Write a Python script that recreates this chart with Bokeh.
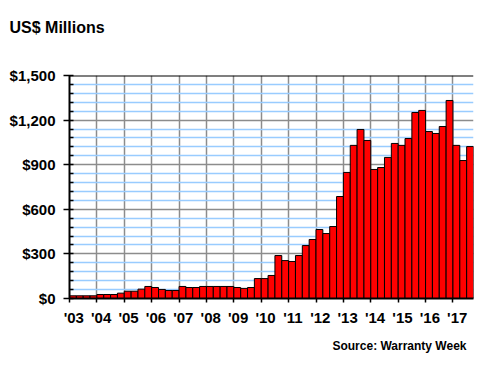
from bokeh.plotting import figure
from bokeh.models import Range1d, FixedTicker, Span, ColumnDataSource, Title
from bokeh.embed import file_html
from bokeh.resources import INLINE

# Quarterly values, US$ millions, 2003 Q1 .. 2017 Q3
values = [
    18, 18, 18, 18,          # 2003
    27, 27, 27, 36,          # 2004
    49, 49, 63, 81,          # 2005
    74, 61, 54, 54,          # 2006
    81, 74, 74, 81,          # 2007
    81, 81, 81, 81,          # 2008
    74, 68, 74, 134,         # 2009
    134, 155, 289, 255,      # 2010
    249, 289, 356, 397,      # 2011
    464, 437, 484, 686,      # 2012
    848, 1030, 1137, 1063,   # 2013
    868, 881, 949, 1043,     # 2014
    1030, 1076, 1251, 1265,  # 2015
    1123, 1110, 1157, 1332,  # 2016
    1030, 928, 1022,         # 2017
]
year_labels = ["'03", "'04", "'05", "'06", "'07", "'08", "'09", "'10",
               "'11", "'12", "'13", "'14", "'15", "'16", "'17"]
y_ticks = [0, 300, 600, 900, 1200, 1500]
y_tick_labels = ["$0", "$300", "$600", "$900", "$1,200", "$1,500"]
y_minor = [v for v in range(60, 1500, 60) if v % 300 != 0]

n = len(values)
src = ColumnDataSource(dict(x=[i + 0.5 for i in range(n)], top=values))

p = figure(width=474, height=372, output_backend="svg", toolbar_location=None,
           x_range=Range1d(0, n), y_range=Range1d(0, 1500),
           min_border_left=69, min_border_right=1, min_border_top=75,
           min_border_bottom=74)
p.outline_line_color = None
p.background_fill_color = "white"
p.border_fill_color = "white"

# grids
year_starts = [4 * k for k in range(len(year_labels))]
p.xgrid.ticker = FixedTicker(ticks=year_starts[1:])
p.xgrid.grid_line_color = "#8c8c8c"
p.xgrid.grid_line_width = 1.5
p.ygrid.ticker = FixedTicker(ticks=y_ticks, minor_ticks=y_minor)
p.ygrid.grid_line_color = "#8c8c8c"
p.ygrid.grid_line_width = 1.5
p.ygrid.minor_grid_line_color = "#99ccff"
p.ygrid.minor_grid_line_width = 1.5

p.vbar(x="x", top="top", width=1.0, bottom=0, source=src,
       fill_color="#ff0000", line_color="black", line_width=1)

p.add_layout(Span(location=1500, dimension="width", line_color="black", line_width=2))

# x axis
lab_pos = [s + 0.625 for s in year_starts]
xa = p.xaxis[0]
xa.ticker = FixedTicker(ticks=lab_pos, minor_ticks=year_starts)
xa.major_label_overrides = {pos: lab for pos, lab in zip(lab_pos, year_labels)}
xa.major_tick_line_color = None
xa.minor_tick_line_color = "black"
xa.minor_tick_line_width = 1.5
xa.minor_tick_in = 0
xa.minor_tick_out = 4
xa.axis_line_color = "black"
xa.axis_line_width = 2
xa.major_label_standoff = 4
xa.major_label_text_font = "Liberation Sans"
xa.major_label_text_font_style = "bold"
xa.major_label_text_font_size = "15px"
xa.major_label_text_color = "black"

# y axis
ya = p.yaxis[0]
ya.ticker = FixedTicker(ticks=y_ticks, minor_ticks=y_minor)
ya.major_label_overrides = {t: lab for t, lab in zip(y_ticks, y_tick_labels)}
ya.major_tick_line_color = "black"
ya.major_tick_line_width = 1.5
ya.major_tick_in = 4
ya.major_tick_out = 6
ya.minor_tick_line_color = "black"
ya.minor_tick_line_width = 1.5
ya.minor_tick_in = 4
ya.minor_tick_out = 0
ya.axis_line_color = "black"
ya.axis_line_width = 2
ya.major_label_standoff = 8
ya.major_label_text_font = "Liberation Sans"
ya.major_label_text_font_style = "bold"
ya.major_label_text_font_size = "15px"
ya.major_label_text_color = "black"

# spacer between frame and title (closest to frame)
p.add_layout(Title(text=" ", standoff=36, text_font_size="2px"), "above")
p.add_layout(Title(text="US$ Millions", align="left", offset=-60, standoff=0,
                   vertical_align="bottom",
                   text_font="Liberation Sans", text_font_style="bold",
                   text_font_size="16px", text_color="black"), "above")
p.add_layout(Title(text="Source: Warranty Week", align="right", offset=7, standoff=16,
                   text_font="Liberation Sans", text_font_style="bold",
                   text_font_size="12px", text_color="black"), "below")

open("out.html", "w").write(file_html(p, INLINE))
